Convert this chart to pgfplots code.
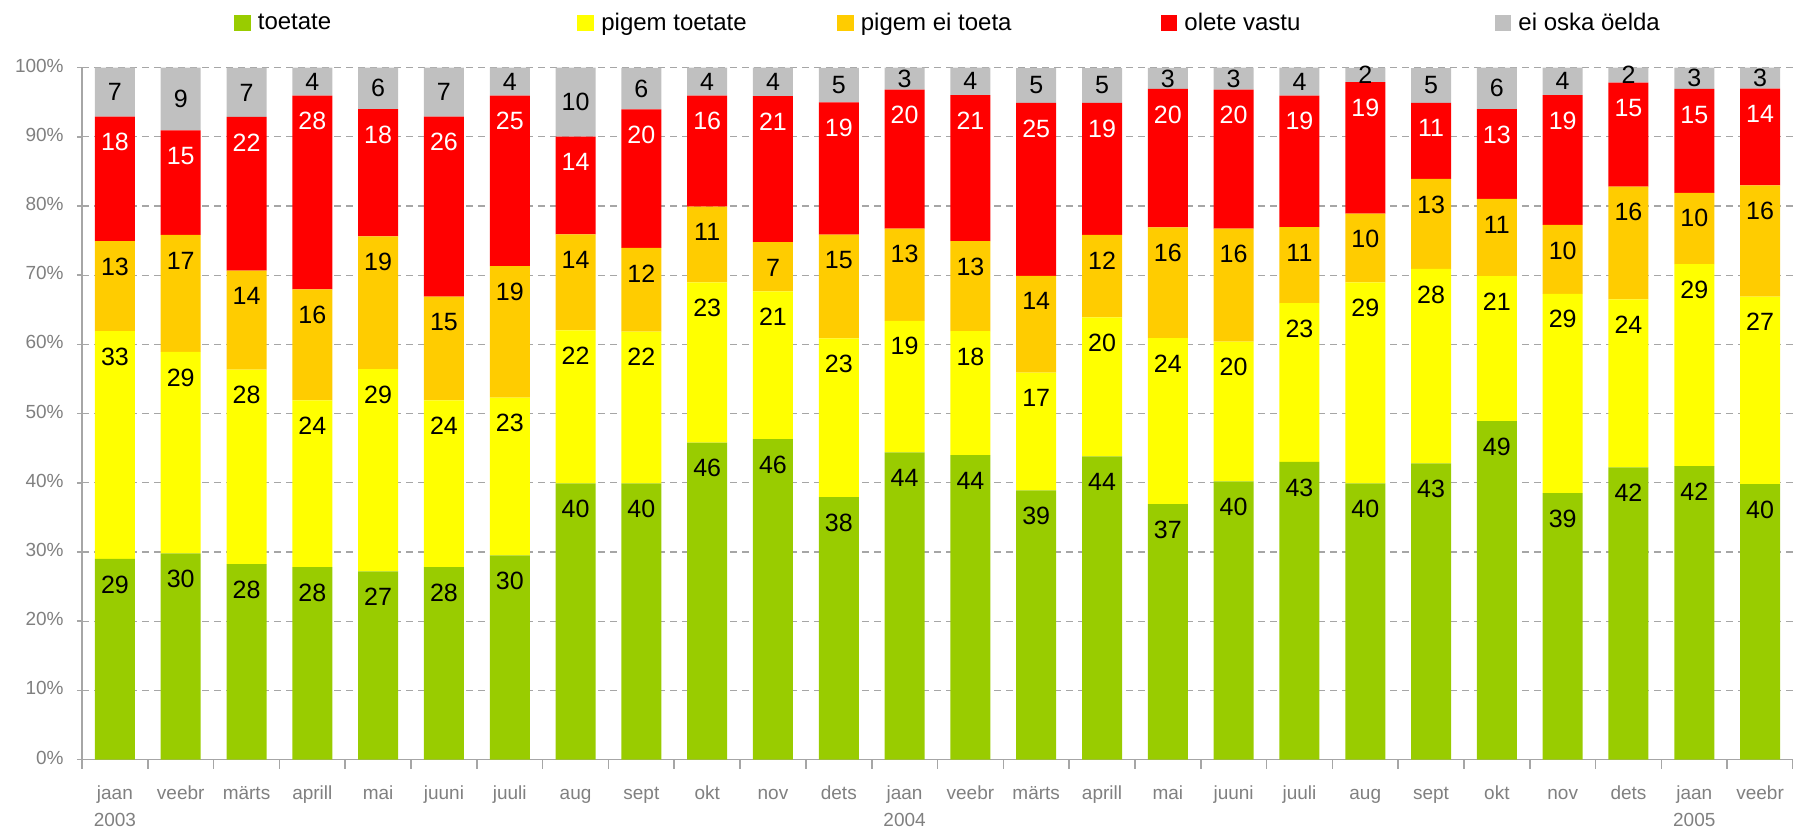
\documentclass[border=0pt]{standalone}
\usepackage{pgfplots}
\pgfplotsset{compat=1.18}
\usepackage{pgfplotstable}
\usepackage{fontspec}
\setmainfont{Liberation Sans}
\definecolor{cgreen}{HTML}{99CC00}
\definecolor{cyellow}{HTML}{FFFF00}
\definecolor{corange}{HTML}{FFCC00}
\definecolor{cred}{HTML}{FF0000}
\definecolor{cgray}{HTML}{C0C0C0}
\definecolor{txtgray}{HTML}{808080}
\definecolor{axgray}{HTML}{A6A6A6}

\pgfplotstableread{
x g y o r n gl yl ol rl nl
0 29.0 32.9 13.0 18.0 7.1 29 33 13 18 7
1 29.8 29.1 16.9 15.1 9.1 30 29 17 15 9
2 28.25 28.1 14.3 22.2 7.1 28 28 14 22 7
3 27.8 24.1 16.05 28.0 4.05 28 24 16 28 4
4 27.2 29.2 19.2 18.4 6.0 27 29 19 18 6
5 27.8 24.1 15.0 26.0 7.1 28 24 15 26 7
6 29.5 22.8 19.0 24.65 4.05 30 23 19 25 4
7 39.9 22.1 13.9 14.1 10.0 40 22 14 14 10
8 39.9 21.95 12.1 20.0 6.0 40 22 12 20 6
9 45.8 23.15 10.95 16.05 4.05 46 23 11 16 4
10 46.3 21.35 7.1 21.1 4.15 46 21 7 21 4
11 37.9 22.95 15.0 19.1 5.0 38 23 15 19 5
12 44.4 19.0 13.3 20.1 3.2 44 19 13 20 3
13 44.0 17.9 13.0 21.1 4.0 44 18 13 21 4
14 38.9 17.0 14.0 25.0 5.0 39 17 14 25 5
15 43.8 20.1 11.9 19.1 5.0 44 20 12 19 5
16 36.9 24.0 16.0 20.0 3.05 37 24 16 20 3
17 40.2 20.2 16.3 20.1 3.2 40 20 16 20 3
18 43.0 22.95 11.0 19.0 4.05 43 23 11 19 4
19 39.9 29.05 9.95 19.0 2.05 40 29 10 19 2
20 42.8 28.1 13.0 11.0 5.0 43 28 13 11 5
21 48.9 20.95 11.15 13.0 6.0 49 21 11 13 6
22 38.5 28.8 9.95 18.75 4.0 39 29 10 19 4
23 42.2 24.3 16.3 15.0 2.2 42 24 16 15 2
24 42.4 29.2 10.3 15.0 3.1 42 29 10 15 3
25 39.8 27.1 16.05 14.0 3.05 40 27 16 14 3
}\data

\begin{document}
\begin{tikzpicture}
\useasboundingbox (0,0) rectangle (896.5pt,413.5pt);
\begin{axis}[
  at={(41pt,33.75pt)}, anchor=south west,
  scale only axis, width=855.5pt, height=346pt,
  ybar stacked, bar width=20pt,
  xmin=-0.5, xmax=25.5, ymin=0, ymax=100,
  clip=false,
  axis x line*=bottom, axis y line*=left,
  axis line style={axgray, line width=0.8pt},
  tick align=outside,
  major tick length=2.5pt,
  minor tick length=4.5pt,
  xtick={0,...,25},
  xticklabels={{jaan\\2003},veebr,märts,aprill,mai,juuni,juuli,aug,sept,okt,nov,dets,{jaan\\2004},veebr,märts,aprill,mai,juuni,juuli,aug,sept,okt,nov,dets,{jaan\\2005},veebr},
  minor xtick={-0.5,0.5,...,25.5},
  major x tick style={draw=none},
  minor x tick style={axgray, line width=0.8pt},
  ytick={0,10,...,100},
  yticklabels={0\%,10\%,20\%,30\%,40\%,50\%,60\%,70\%,80\%,90\%,100\%},
  y tick style={axgray, line width=0.8pt},
  typeset ticklabels with strut,
  xticklabel style={align=center, text=txtgray, font=\fontsize{9.5}{13.5}\selectfont, inner sep=0pt, yshift=-7.8pt},
  yticklabel style={text=txtgray, font=\fontsize{9.5}{11.4}\selectfont, inner sep=0pt, xshift=-6.5pt},
  ymajorgrids,
  major grid style={axgray, dash pattern=on 3.5pt off 2.5pt, line width=0.6pt},
  legend columns=5,
  legend cell align=left,
  legend image code/.code={\fill[#1] (0pt,-4.15pt) rectangle (8.3pt,4.15pt);},
  legend style={at={(0.0888,1)}, anchor=west, yshift=22.25pt, draw=none, fill=none,
    inner sep=0pt, outer sep=0pt, column sep=0pt,
    nodes={inner sep=0pt, text depth=0.15em},
    font=\fontsize{12}{14}\selectfont},
  nodes near coords,
  point meta=explicit symbolic,
  every node near coord/.append style={anchor=center, font=\fontsize{12.5}{15}\selectfont, inner sep=0pt},
]
\addplot[fill=cgreen, draw=none, visualization depends on=rawy\as\rawy,
  every node near coord/.append style={yshift={1.73pt*\rawy-12.8pt}, text=black}]
  table[x=x, y=g, meta=gl]{\data};
\addlegendentry{\makebox[163.45pt][l]{\hspace{3.65pt}toetate}}
\addplot[fill=cyellow, draw=none, visualization depends on=rawy\as\rawy,
  every node near coord/.append style={yshift={1.73pt*\rawy-12.8pt}, text=black}]
  table[x=x, y=y, meta=yl]{\data};
\addlegendentry{\makebox[121.45pt][l]{\hspace{3.65pt}pigem toetate}}
\addplot[fill=corange, draw=none, visualization depends on=rawy\as\rawy,
  every node near coord/.append style={yshift={1.73pt*\rawy-12.8pt}, text=black}]
  table[x=x, y=o, meta=ol]{\data};
\addlegendentry{\makebox[153.5pt][l]{\hspace{3.65pt}pigem ei toeta}}
\addplot[fill=cred, draw=none, visualization depends on=rawy\as\rawy,
  every node near coord/.append style={yshift={1.73pt*\rawy-12.8pt}, text=white}]
  table[x=x, y=r, meta=rl]{\data};
\addlegendentry{\makebox[158.7pt][l]{\hspace{3.65pt}olete vastu}}
\addplot[fill=cgray, draw=none,
  every node near coord/.append style={text=black}]
  table[x=x, y=n, meta=nl]{\data};
\addlegendentry{\hspace{3.65pt}ei oska öelda}
\end{axis}
\end{tikzpicture}
\end{document}
